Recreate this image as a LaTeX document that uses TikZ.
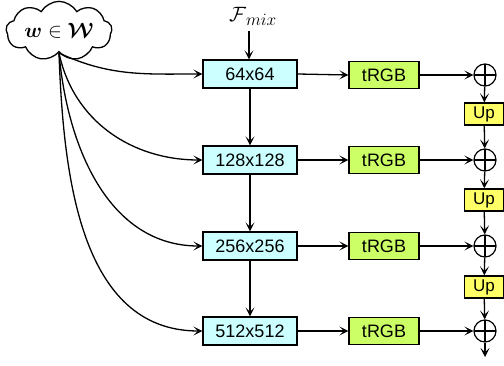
\documentclass[tikz,border=0pt]{standalone}
\usepackage{amsmath,bm}
\usepackage{fontspec}
\setmainfont{Liberation Sans}
\usetikzlibrary{shapes.symbols,arrows.meta}
\begin{document}
\begin{tikzpicture}[x=1pt,y=-1pt,
  res/.style={draw,line width=1.3pt,minimum width=94pt,minimum height=28pt,font=\fontsize{18}{20}\selectfont,inner sep=0pt},
  trgb/.style={draw,line width=1.3pt,minimum width=70pt,minimum height=27pt,font=\fontsize{18}{20}\selectfont,inner sep=0pt},
  upbox/.style={draw,line width=1.3pt,minimum width=39pt,minimum height=22pt,font=\fontsize{17}{19}\selectfont,inner sep=0pt},
  addc/.style={draw,line width=1.2pt,circle,minimum size=22pt,inner sep=0pt,
    path picture={\draw[line width=1.2pt] (path picture bounding box.north) -- (path picture bounding box.south)
      (path picture bounding box.west) -- (path picture bounding box.east);}},
  arr/.style={-{Stealth[length=9pt,width=9pt,inset=4.5pt]},line width=1.3pt},
]
\useasboundingbox (0,0) rectangle (504,366);
\definecolor{trgbc}{HTML}{CCFF66}
\definecolor{upc}{HTML}{FFFF66}
\definecolor{resc}{HTML}{CCFFFF}
\tikzset{res/.append style={fill=resc},trgb/.append style={fill=trgbc},upbox/.append style={fill=upc}}
\node[cloud,draw,line width=1.3pt,cloud puffs=9,cloud puff arc=120,aspect=2.3,minimum width=106pt,minimum height=45pt,inner sep=0pt] (w) at (59,31) {\fontsize{20}{22}\selectfont$\bm{w}\in\bm{\mathcal{W}}$};
\node[inner sep=0pt,anchor=base west] (f) at (229,22) {\fontsize{22}{24}\selectfont$\mathcal{F}$\raisebox{-4pt}{\fontsize{19}{21}\selectfont$mix$}};
\node[res] (b1) at (250,74) {64x64};
\node[res] (b2) at (250,160) {128x128};
\node[res] (b3) at (250,246) {256x256};
\node[res] (b4) at (250,331) {512x512};
\foreach \i/\y in {1/75,2/160,3/246,4/331}{
  \node[trgb] (t\i) at (384,\y) {tRGB};
  \node[addc] (c\i) at (485,\y) {};
}
\node[upbox] (u1) at (484,114) {Up};
\node[upbox] (u2) at (484,200) {Up};
\node[upbox] (u3) at (484,287) {Up};
\coordinate (out) at (485,357);
\coordinate (ws) at (59,53);
\coordinate (fs) at (249,31);
\draw[arr] (fs) -- (b1.north -| fs);
\draw[arr] (b1) -- (b2);
\draw[arr] (b2) -- (b3);
\draw[arr] (b3) -- (b4);
\draw[arr] (ws) to[out=-25,in=180] (b1.west);
\draw[arr] (ws) to[out=-78,in=180] (b2.west);
\draw[arr] (ws) to[out=-85,in=180] (b3.west);
\draw[arr] (ws) to[out=-88,in=180] (b4.west);
\foreach \i in {1,2,3,4}{
  \draw[arr] (b\i.east) -- (t\i.west);
  \draw[arr] (t\i.east) -- (c\i.west);
}
\draw[arr] (c1) -- (u1);
\draw[arr] (u1) -- (c2);
\draw[arr] (c2) -- (u2);
\draw[arr] (u2) -- (c3);
\draw[arr] (c3) -- (u3);
\draw[arr] (u3) -- (c4);
\draw[arr] (c4) -- (out);
\end{tikzpicture}
\end{document}
